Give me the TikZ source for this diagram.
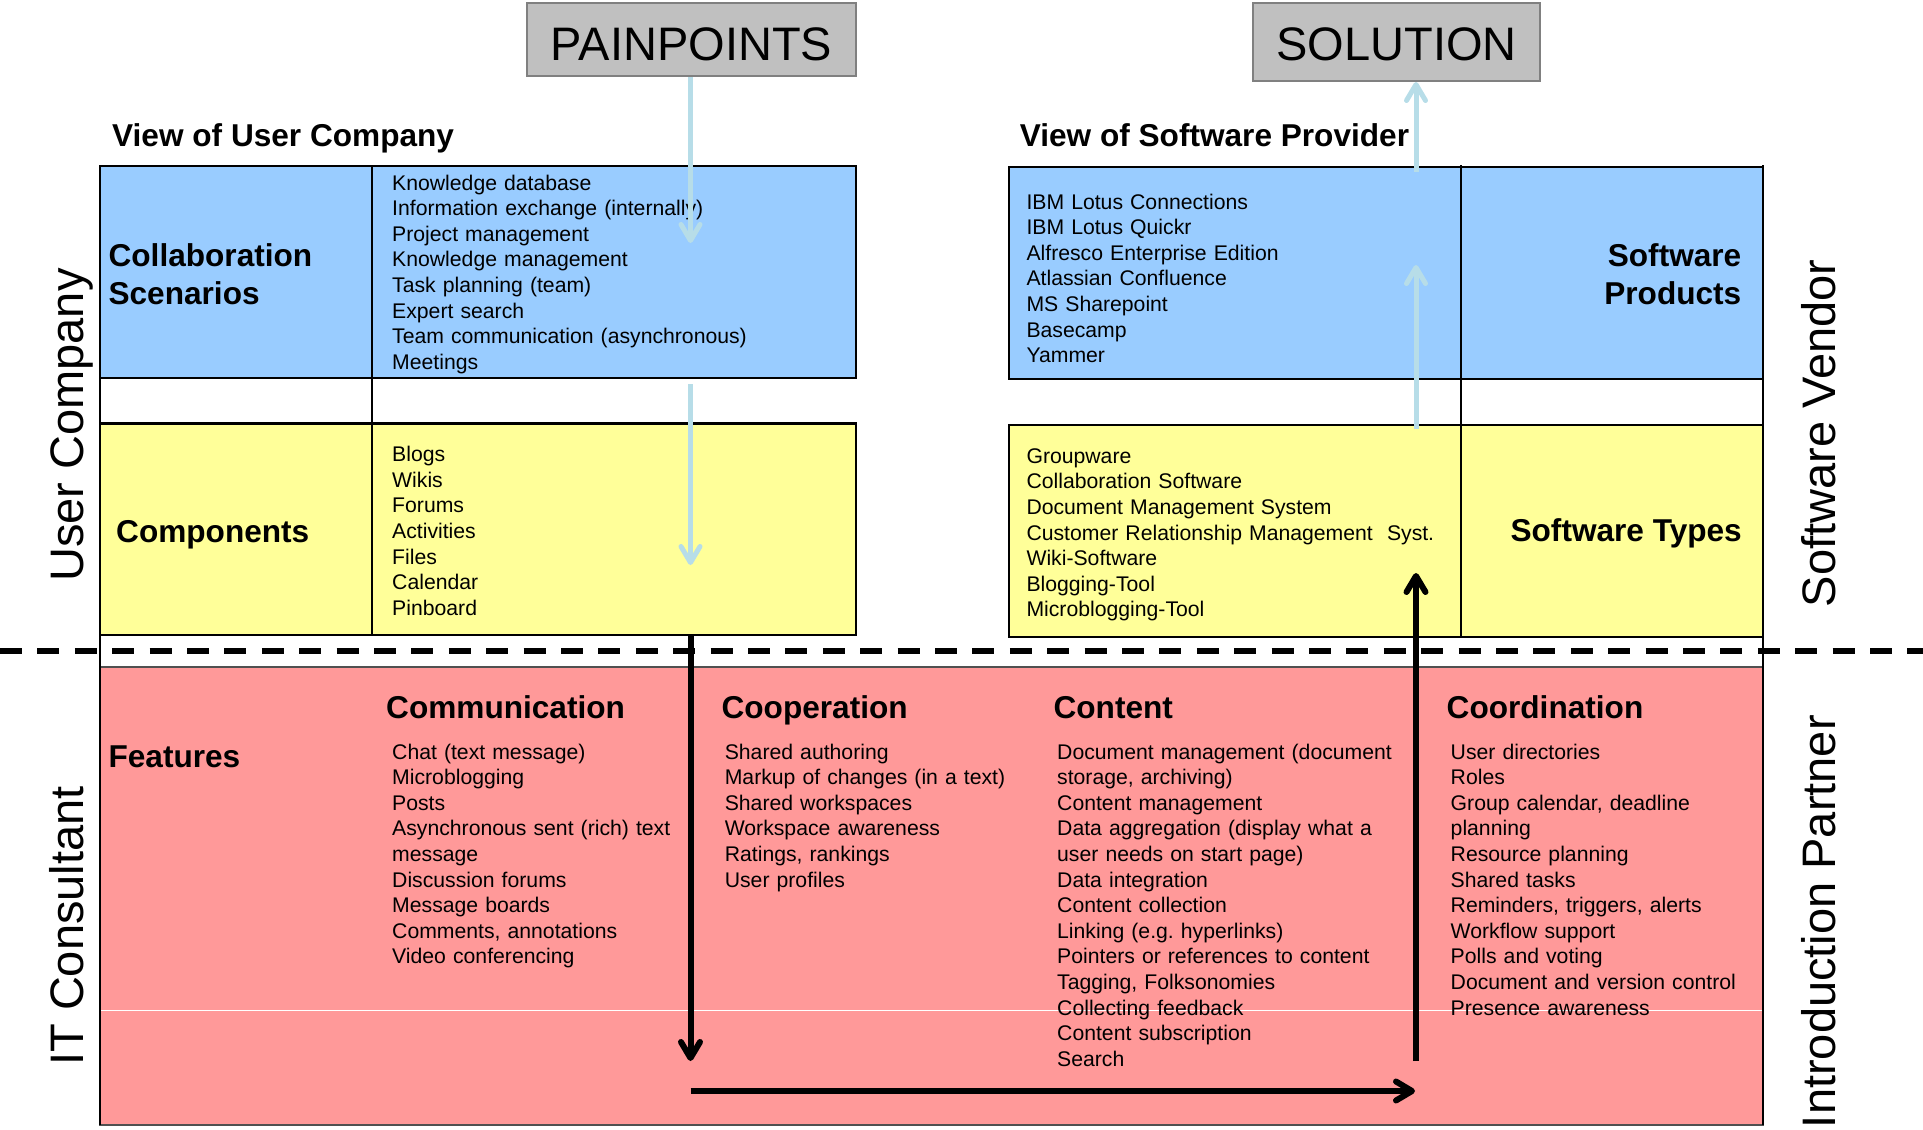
\documentclass[tikz,border=0pt]{standalone}
\usepackage{fontspec}
\setmainfont{Liberation Sans}
\usetikzlibrary{arrows.meta}
\definecolor{boxblue}{HTML}{99CCFF}
\definecolor{boxyellow}{HTML}{FFFF99}
\definecolor{boxred}{HTML}{FF9999}
\definecolor{titlegray}{HTML}{C0C0C0}
\definecolor{titleedge}{HTML}{808080}
\definecolor{flowblue}{HTML}{B7DDE8}
\definecolor{rededge}{HTML}{505050}
\newcommand{\fsList}{\fontsize{21.2}{25.6}\selectfont}
\newcommand{\fsHead}{\bfseries\fontsize{31.6}{37.3}\selectfont}
\newcommand{\fsBig}{\fontsize{47}{56}\selectfont}
\frenchspacing
\begin{document}
\frenchspacing
\begin{tikzpicture}[x=1pt,y=-1pt,
  titlebox/.style={draw=titleedge, line width=2pt, fill=titlegray, font=\fsBig, inner sep=0pt, text depth=0pt},
  cell/.style={draw=black, line width=2.5pt},
  rule/.style={draw=black, line width=2pt},
  listtxt/.style={font=\fsList, align=left, text width=420pt, anchor=base west, inner sep=0pt},
  head/.style={font=\fsHead, anchor=base west, inner sep=0pt},
  side/.style={font=\fsBig, rotate=90, inner sep=0pt},
  flowpale/.style={draw=flowblue, line width=5pt, -{Straight Barb[length=16pt,width=19pt,round]}},
  flowdark/.style={draw=black, line width=6pt, -{Straight Barb[length=16pt,width=19pt,round]}},
]
\useasboundingbox (0,0) rectangle (1923,1130);

% title boxes
\node[titlebox, minimum width=329pt, minimum height=73pt, text height=41pt] (pain) at (691.5,39.5) {PAINPOINTS};
\node[titlebox, minimum width=287pt, minimum height=78pt, text height=36pt] (sol) at (1396.5,42) {SOLUTION};

% headings above tables
\node[head] (viewuser) at (112,146) {View of User Company};
\node[head] (viewprov) at (1019.6,146) {View of Software Provider};

% red features area
\path[fill=boxred] (100,667) rectangle (1763,1125);
\draw[white, line width=1pt] (100,1010) -- (1763,1010);
\draw[draw=rededge, line width=2pt] (100,667) rectangle (1763,1125);

% table cells
\path[cell, fill=boxblue] (100,166) rectangle (856,378);
\path[cell, fill=boxyellow] (100,423.5) rectangle (856,635);
\path[cell, fill=boxblue] (1009,167) rectangle (1763,379);
\path[cell, fill=boxyellow] (1009,425) rectangle (1763,637);

% vertical rules
\draw[rule] (100,166) -- (100,1125);
\draw[rule] (1763,165) -- (1763,1125);
\draw[rule] (372,166) -- (372,635);
\draw[rule] (1461,165) -- (1461,637);

% dashed separator
\draw[black, line width=6pt, dash pattern=on 22pt off 15.4pt] (0,651) -- (1923,651);

% cell texts
\node[head, align=left, text width=250pt] (scen) at (108.4,266.7) {Collaboration\\Scenarios};
\node[listtxt] (scenlist) at (392,190) {Knowledge database\\Information exchange (internally)\\Project management\\Knowledge management\\Task planning (team)\\Expert search\\Team communication (asynchronous)\\Meetings};

\node[head] (comp) at (116,542) {Components};
\node[listtxt] (complist) at (392,461.7) {Blogs\\Wikis\\Forums\\Activities\\Files\\Calendar\\Pinboard};

\node[listtxt] (prodlist) at (1026.3,209) {IBM Lotus Connections\\IBM Lotus Quickr\\Alfresco Enterprise Edition\\Atlassian Confluence\\MS Sharepoint\\Basecamp\\Yammer};
\node[font=\fsHead, align=right, text width=250pt, anchor=base east, inner sep=0pt] (prod) at (1741.5,266.7) {Software\\Products};

\node[listtxt] (typelist) at (1026.3,463.3) {Groupware\\Collaboration Software\\Document Management System\\Customer Relationship Management\ \ Syst.\\Wiki-Software\\Blogging-Tool\\Microblogging-Tool};
\node[font=\fsHead, anchor=base east, inner sep=0pt] (types) at (1742,541.7) {Software Types};

% features
\node[head] (feat) at (108.4,767) {Features};
\node[head] (hcomm) at (386,718) {Communication};
\node[head] (hcoop) at (721.4,718) {Cooperation};
\node[head] (hcont) at (1053.4,718) {Content};
\node[head] (hcoord) at (1446.5,718) {Coordination};

\node[listtxt] (commlist) at (392,759) {Chat (text message)\\Microblogging\\Posts\\Asynchronous sent (rich) text\\message\\Discussion forums\\Message boards\\Comments, annotations\\Video conferencing};
\node[listtxt] (cooplist) at (724.6,759) {Shared authoring\\Markup of changes (in a text)\\Shared workspaces\\Workspace awareness\\Ratings, rankings\\User profiles};
\node[listtxt] (contlist) at (1057,759) {Document management (document\\storage, archiving)\\Content management\\Data aggregation (display what a\\user needs on start page)\\Data integration\\Content collection\\Linking (e.g.\ hyperlinks)\\Pointers or references to content\\Tagging, Folksonomies\\Collecting feedback\\Content subscription\\Search};
\node[listtxt] (coordlist) at (1450.5,759) {User directories\\Roles\\Group calendar, deadline\\planning\\Resource planning\\Shared tasks\\Reminders, triggers, alerts\\Workflow support\\Polls and voting\\Document and version control\\Presence awareness};

% side labels
\node[side, anchor=base] (usercomp) at (83,425) {User Company};
\node[side, anchor=base] (itcons) at (83,926) {IT Consultant};
\node[side, anchor=base] (vendor) at (1835,433.5) {Software Vendor};
\node[side, anchor=base east] (intro) at (1835,715) {Introduction Partner};

% flow coordinates
\coordinate (a1e) at (690.5,243);
\coordinate (a2s) at (690.5,384);
\coordinate (a2e) at (690.5,565);
\coordinate (a3s) at (690.5,634);
\coordinate (a3e) at (690.5,1061);
\coordinate (a4s) at (690.5,1091);
\coordinate (a4e) at (1415,1091);
\coordinate (a5s) at (1416,1061);
\coordinate (a5e) at (1416,573);
\coordinate (a6s) at (1416,429);
\coordinate (a6e) at (1416,265);
\coordinate (a7s) at (1416,172);

% arrows
\draw[flowpale] (a1e |- pain.south) -- (a1e);
\draw[flowpale] (a2s) -- (a2e);
\draw[flowdark] (a3s) -- (a3e);
\draw[flowdark] (a4s) -- (a4e);
\draw[flowdark] (a5s) -- (a5e);
\draw[flowpale] (a6s) -- (a6e);
\draw[flowpale] (a7s) -- (a7s |- sol.south);
\end{tikzpicture}
\end{document}
